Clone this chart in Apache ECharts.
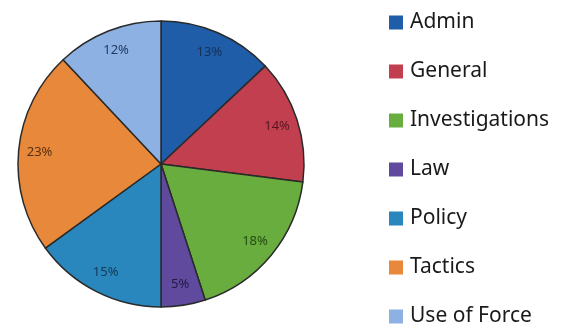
<!DOCTYPE html>
<html><head><meta charset="utf-8">
<script src="https://cdn.jsdelivr.net/npm/echarts@6/dist/echarts.min.js"></script>
<style>html,body{margin:0;padding:0;background:#fff}#c{width:577px;height:326px}</style>
</head><body><div id="c"></div>
<script>
const categories = ['Admin','General','Investigations','Law','Policy','Tactics','Use of Force'];
const values = [13,14,18,5,15,23,12];
const colors = ['#1f5da8','#c23f50','#68ad3e','#5f4a9e','#2a87bd','#e8883a','#8cb1e2'];
const labelColors = ['#14305a','#5a1620','#244a14','#241a44','#123a55','#5a3010','#203a66'];

const chart = echarts.init(document.getElementById('c'));
const data = categories.map((n,i)=>({name:n,value:values[i],itemStyle:{color:colors[i]},label:{color:labelColors[i]}}));
chart.setOption({
  animation:false,
  legend:{
    orient:'vertical', left:389, top:12, height:326, padding:0, icon:'rect', itemWidth:14, itemHeight:14, itemGap:28,
    itemStyle:{borderWidth:0},
    textStyle:{fontFamily:'Noto Sans', fontSize:21, color:'#1a1a1a', lineHeight:21, padding:[0,0,0,2]},
    data:categories
  },
  series:[
    {type:'pie', center:[161,164], radius:[0,143], startAngle:90, clockwise:true,
     itemStyle:{borderColor:'#2a2a2a', borderWidth:1.5},
     label:{show:false}, labelLine:{show:false}, data:data, silent:true},
    {type:'pie', center:[161,164], radius:[95,143], startAngle:90, clockwise:true,
     itemStyle:{color:'transparent', borderWidth:0},
     label:{show:true, position:'inside', formatter:'{c}%', fontFamily:'Noto Sans', fontSize:13},
     labelLine:{show:false}, data:data.map(d=>({name:d.name,value:d.value,label:d.label,itemStyle:{color:'transparent'}})), silent:true, legendHoverLink:false}
  ]
});
</script></body></html>
